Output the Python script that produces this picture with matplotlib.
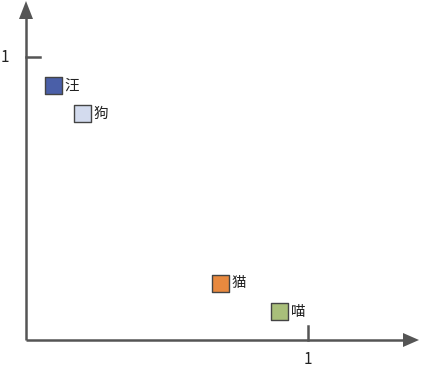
import matplotlib
matplotlib.use("Agg")
import matplotlib.pyplot as plt
from matplotlib.patches import Polygon

plt.rcParams['font.family'] = ['Noto Sans CJK SC', 'DejaVu Sans']

labels = ['汪', '狗', '猫', '喵']
xs = [0.096, 0.20, 0.69, 0.90]
ys = [0.90, 0.80, 0.20, 0.10]
colors = ['#4a5fa8', '#d3dbee', '#e8893f', '#a9bf7a']

W, H = 422, 373
fig = plt.figure(figsize=(W / 100, H / 100), dpi=100)
ax = fig.add_axes([0, 0, 1, 1])
ox, oy = 26, 340
sx, sy = 282, 283
ax.set_xlim(-ox / sx, (W - ox) / sx)
ax.set_ylim(-(H - oy) / sy, oy / sy)
ax.axis('off')

axc = '#555555'
lw = 1.8
xmax = (419 - ox) / sx
ymax = (oy - 3) / sy
# axes lines
ax.plot([0, xmax - 12 / sx], [0, 0], color=axc, lw=lw, solid_capstyle='butt')
ax.plot([0, 0], [0, ymax - 12 / sy], color=axc, lw=lw, solid_capstyle='butt')
# arrow heads
ax.add_patch(Polygon([[xmax, 0], [xmax - 16 / sx, 7 / sy], [xmax - 16 / sx, -7 / sy]],
                     closed=True, color=axc, lw=0))
ax.add_patch(Polygon([[0, ymax + 2 / sy], [-7 / sx, ymax - 16 / sy], [7 / sx, ymax - 16 / sy]],
                     closed=True, color=axc, lw=0))
# ticks
ax.plot([1, 1], [0, 14 / sy], color=axc, lw=lw)
ax.plot([0, 14 / sx], [1, 1], color=axc, lw=lw)
ax.text(1, -19 / sy, '1', ha='center', va='center', fontsize=11, color='#222222')
ax.text(-21 / sx, 1, '1', ha='center', va='center', fontsize=11, color='#222222')

ax.scatter(xs, ys, marker='s', s=150, c=colors, edgecolors='#444444', linewidths=1.0, zorder=3)
for x, y, t in zip(xs, ys, labels):
    ax.text(x + 11 / sx, y, t, ha='left', va='center', fontsize=10.5, color='#222222')

fig.savefig('out.png', dpi=100)
